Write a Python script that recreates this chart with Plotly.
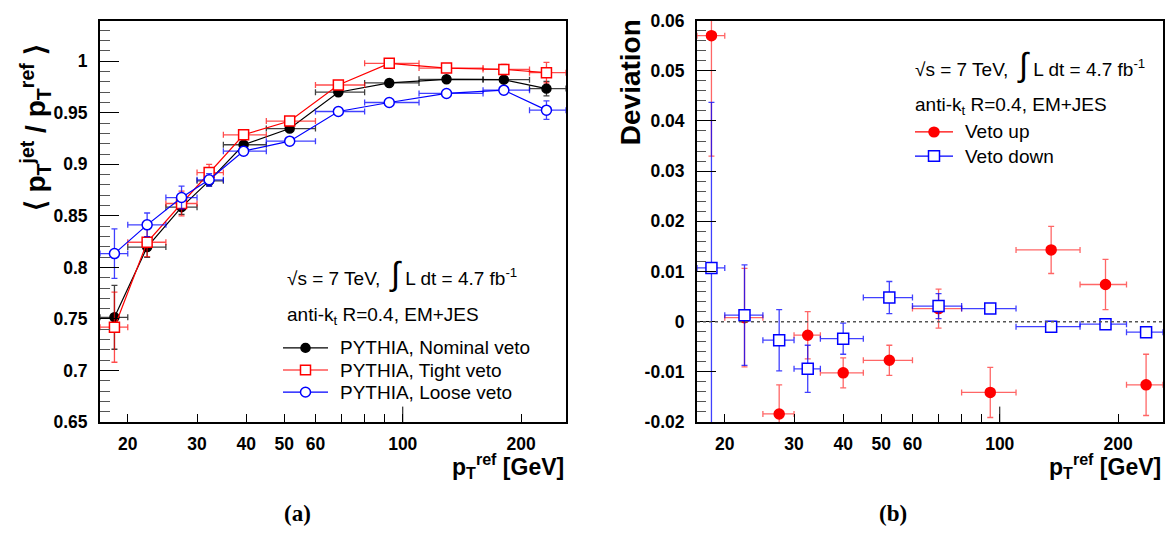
import math
import plotly.graph_objects as go

# ---------------- data ----------------
# common pT bins (GeV)
bin_lo = [17, 20, 25, 30, 35, 45, 60, 80, 110, 160, 210]
bin_hi = [20, 25, 30, 35, 45, 60, 80, 110, 160, 210, 260]

# panel (a): response vs pT^ref
pt_a = [18.5, 22.4, 27.4, 32.2, 39.4, 51.6, 68.6, 92.4, 129.2, 180.7, 231.9]
nominal = [0.7516, 0.8197, 0.8585, 0.884, 0.919, 0.9347, 0.970, 0.979, 0.9825, 0.9822, 0.9735]
nominal_err = [0.031, 0.010, 0.007, 0.005, 0.003, 0.003, 0.003, 0.002, 0.002, 0.003, 0.007]
tight = [0.742, 0.8244, 0.862, 0.892, 0.9287, 0.942, 0.977, 0.998, 0.9934, 0.9921, 0.989]
tight_err = [0.034, 0.014, 0.012, 0.008, 0.003, 0.003, 0.003, 0.002, 0.002, 0.005, 0.010]
loose = [0.8134, 0.8413, 0.8678, 0.885, 0.9128, 0.9225, 0.9513, 0.960, 0.9688, 0.972, 0.9526]
loose_err = [0.024, 0.0115, 0.011, 0.006, 0.003, 0.003, 0.002, 0.002, 0.002, 0.004, 0.009]

# panel (b): deviation
pt_b = [18.5, 22.45, 27.5, 32.5, 40.0, 52.4, 69.9, 94.6, 135.1, 185.7, 235.5]
veto_up = [0.0570, 0.0008, -0.0184, -0.0027, -0.0102, -0.0077, 0.0026, -0.0141, 0.0143, 0.0074, -0.0126]
veto_up_err = [0.024, 0.0098, 0.0058, 0.0047, 0.0030, 0.0030, 0.0039, 0.0050, 0.0047, 0.0050, 0.0061]
veto_down = [0.0107, 0.0013, -0.0037, -0.0094, -0.0034, 0.0048, 0.0031, 0.0026, -0.0010, -0.0005, -0.0021]
veto_down_err = [0.033, 0.0100, 0.0061, 0.0047, 0.0031, 0.0032, 0.0025, 0.0007, 0.0003, 0.0003, 0.0003]

# legend labels
legend_a = ["PYTHIA, Nominal veto", "PYTHIA, Tight veto", "PYTHIA, Loose veto"]
legend_b = ["Veto up", "Veto down"]

# ticks
x_tickvals = [20, 30, 40, 50, 60, 70, 80, 90, 100, 200]
x_ticktext = ["20", "30", "40", "50", "60", "", "", "", "100", "200"]
ya_tickvals = [0.65, 0.7, 0.75, 0.8, 0.85, 0.9, 0.95, 1.0]
ya_ticktext = ["0.65", "0.7", "0.75", "0.8", "0.85", "0.9", "0.95", "1"]
yb_tickvals = [-0.02, -0.01, 0.0, 0.01, 0.02, 0.03, 0.04, 0.05, 0.06]
yb_ticktext = ["-0.02", "-0.01", "0", "0.01", "0.02", "0.03", "0.04", "0.05", "0.06"]

W, H = 1165, 535
FONT = "Liberation Sans"
RED, BLUE, BLACK = "#ff0000", "#0000ff", "#000000"


def px(x):
    return x / W


def py(y):
    return 1 - y / H


def xerr(pts):
    return dict(type="data", symmetric=False,
                array=[h - p for h, p in zip(bin_hi, pts)],
                arrayminus=[p - l for l, p in zip(bin_lo, pts)])


fig = go.Figure()

series_a = [
    (nominal, nominal_err, legend_a[0], BLACK, "rgba(0,0,0,0.75)", "circle", 9, BLACK),
    (tight, tight_err, legend_a[1], RED, "rgba(255,0,0,0.7)", "square", 10, "white"),
    (loose, loose_err, legend_a[2], BLUE, "rgba(0,0,255,0.75)", "circle", 10, "white"),
]
for y, err, name, color, errcolor, symbol, size, fill in series_a:
    fig.add_trace(go.Scatter(
        x=pt_a, y=y, name=name, mode="lines+markers", showlegend=False,
        line=dict(color=color, width=1.2),
        marker=dict(symbol=symbol, size=size, color=fill, line=dict(color=color, width=1.5)),
        error_x=dict(**xerr(pt_a), color=errcolor, thickness=1.3, width=3),
        error_y=dict(type="data", array=err, color=errcolor, thickness=1.3, width=3),
        xaxis="x", yaxis="y"))

series_b = [
    (veto_up, veto_up_err, legend_b[0], RED, "rgba(255,0,0,0.6)", "circle", 10, RED),
    (veto_down, veto_down_err, legend_b[1], BLUE, "rgba(0,0,255,0.75)", "square", 11, "white"),
]
for y, err, name, color, errcolor, symbol, size, fill in series_b:
    fig.add_trace(go.Scatter(
        x=pt_b, y=y, name=name, mode="markers", showlegend=False,
        marker=dict(symbol=symbol, size=size, color=fill, line=dict(color=color, width=1.5)),
        error_x=dict(**xerr(pt_b), color=errcolor, thickness=1.3, width=3),
        error_y=dict(type="data", array=err, color=errcolor, thickness=1.3, width=3),
        xaxis="x2", yaxis="y2"))

xrange = [math.log10(17), math.log10(260)]
ydom = [py(428), py(11)]

xcommon = dict(type="log", range=xrange, tickmode="array", tickvals=x_tickvals, ticktext=x_ticktext,
               ticks="inside", ticklen=8, tickwidth=1, tickcolor="black",
               showline=True, linecolor="black", linewidth=2, mirror=True,
               showgrid=False, zeroline=False, ticklabelstandoff=5,
               tickfont=dict(family=FONT, size=17.5, color="black", weight="bold"))
ycommon = dict(ticks="inside", ticklen=19, tickwidth=1, tickcolor="black",
               showline=True, linecolor="black", linewidth=2, mirror=True,
               showgrid=False, zeroline=False, ticklabelstandoff=7, tickmode="array",
               tickfont=dict(family=FONT, size=17.5, color="black", weight="bold"))

fig.update_layout(
    width=W, height=H, margin=dict(l=0, r=0, t=0, b=0),
    paper_bgcolor="white", plot_bgcolor="white", showlegend=False,
    font=dict(family=FONT, size=17, color="black"),
    xaxis=dict(domain=[px(100), px(566)], anchor="y", **xcommon),
    yaxis=dict(domain=ydom, anchor="x", range=[0.65, 1.0395],
               tickvals=ya_tickvals, ticktext=ya_ticktext,
               minor=dict(dtick=0.01, tick0=0.65, ticks="inside", ticklen=10, tickcolor="#555", tickwidth=1),
               **ycommon),
    xaxis2=dict(domain=[px(697), px(1163)], anchor="y2", **xcommon),
    yaxis2=dict(domain=ydom, anchor="x2", range=[-0.02, 0.06],
                tickvals=yb_tickvals, ticktext=yb_ticktext,
                minor=dict(dtick=0.002, tick0=0.0, ticks="inside", ticklen=9, tickcolor="#555", tickwidth=1),
                **ycommon),
)

shapes = []
# long major tick at 100 GeV on each x axis, and the dashed zero line in (b)
for xr, yr in (("x", "y domain"), ("x2", "y2 domain")):
    shapes.append(dict(type="line", xref=xr, yref=yr, x0=100, x1=100, y0=0, y1=16 / 417,
                       line=dict(color="black", width=1)))
shapes.append(dict(type="line", xref="x2 domain", yref="y2", x0=0, x1=1, y0=0, y1=0,
                   line=dict(color="#555", width=1.5, dash="3px,3px")))

ann = []
TXT = 19


def legend_entry(x_line0, x_line1, x_text, y, name, color, symbol, size, fill):
    shapes.append(dict(type="line", xref="paper", yref="paper", x0=px(x_line0), x1=px(x_line1),
                       y0=py(y), y1=py(y), line=dict(color=color, width=1.2)))
    cx = (x_line0 + x_line1) / 2
    r = size / 2
    shapes.append(dict(type="rect" if symbol == "square" else "circle", xref="paper", yref="paper",
                       x0=px(cx - r), x1=px(cx + r), y0=py(y + r), y1=py(y - r),
                       fillcolor=fill, line=dict(color=color, width=1.5)))
    ann.append(dict(x=px(x_text), y=py(y), text=name, font=dict(family=FONT, size=TXT, color="black"),
                    xanchor="left", yanchor="middle"))


for (y, err, name, color, errcolor, symbol, size, fill), yrow in zip(series_a, (351, 374, 397)):
    legend_entry(283, 328, 338, yrow, name, color, symbol, size, fill)
for (y, err, name, color, errcolor, symbol, size, fill), yrow in zip(series_b, (126.7, 151.7)):
    legend_entry(915, 953, 963, yrow, name, color, symbol, size, fill)

tf = dict(family=FONT, size=28, color="black", weight="bold")
ann.append(dict(x=px(36), y=py(123), text="⟨ p<sub>T</sub><sup>jet</sup> / p<sub>T</sub><sup>ref</sup> ⟩",
                textangle=-90, font=tf, xanchor="center", yanchor="middle"))
ann.append(dict(x=px(630), y=py(75), text="Deviation", textangle=-90, font=tf,
                xanchor="center", yanchor="middle"))
xf = dict(family=FONT, size=23, color="black", weight="bold")
for xr in (566, 1163):
    ann.append(dict(x=px(xr), y=py(474), text="p<sub>T</sub><sup>ref</sup> [GeV]", font=xf,
                    xanchor="right", yanchor="middle"))
lf = dict(family="Liberation Serif", size=23, color="black", weight="bold")
ann.append(dict(x=px(298), y=py(523), text="(a)", font=lf, xanchor="center", yanchor="middle"))
ann.append(dict(x=px(893), y=py(523), text="(b)", font=lf, xanchor="center", yanchor="middle"))

lumi = "√s = 7 TeV,  <span style='font-size:33px'>∫</span> L dt = 4.7 fb<sup>-1</sup>"
jet = "anti-k<sub>t</sub> R=0.4, EM+JES"
af = dict(family=FONT, size=TXT, color="black")
for (x0, ylumi, yjet) in ((285, 274, 318), (913, 57, 100)):
    ann.append(dict(x=px(x0), y=py(ylumi), text=lumi, font=af, xanchor="left", yanchor="middle"))
    ann.append(dict(x=px(x0), y=py(yjet), text=jet, font=af, xanchor="left", yanchor="middle"))

for a in ann:
    a.update(xref="paper", yref="paper", showarrow=False)
fig.update_layout(annotations=ann, shapes=shapes)

fig.write_html("out.html", config={"displayModeBar": False},
               post_script="document.body.style.margin='0px';")
